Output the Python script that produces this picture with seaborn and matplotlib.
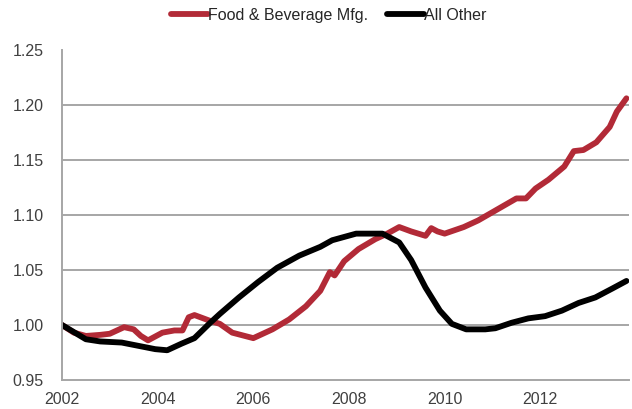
import pandas as pd
import matplotlib
matplotlib.use('Agg')
import matplotlib.pyplot as plt
import seaborn as sns

# Index values (decimal year, level relative to 2002)
food_year = [2002.0, 2002.25, 2002.5, 2002.8, 2003.0, 2003.3, 2003.5, 2003.65, 2003.8,
             2004.1, 2004.35, 2004.52, 2004.65, 2004.77, 2005.08, 2005.3, 2005.56, 2006.0,
             2006.4, 2006.75, 2007.1, 2007.4, 2007.6, 2007.7, 2007.9, 2008.2, 2008.55,
             2008.8, 2009.05, 2009.3, 2009.6, 2009.72, 2009.85, 2010.0, 2010.4, 2010.7,
             2011.06, 2011.5, 2011.7, 2011.9, 2012.17, 2012.5, 2012.7, 2012.9, 2013.17,
             2013.45, 2013.6, 2013.8]
food_val = [1.000, 0.993, 0.990, 0.991, 0.992, 0.998, 0.996, 0.990, 0.986,
            0.993, 0.995, 0.995, 1.007, 1.009, 1.004, 1.001, 0.993, 0.988,
            0.996, 1.005, 1.017, 1.031, 1.048, 1.045, 1.058, 1.069, 1.078,
            1.083, 1.089, 1.085, 1.081, 1.088, 1.085, 1.083, 1.089, 1.095,
            1.104, 1.115, 1.115, 1.124, 1.132, 1.144, 1.158, 1.159, 1.166,
            1.180, 1.194, 1.206]

other_year = [2002.0, 2002.27, 2002.5, 2002.8, 2003.25, 2003.6, 2003.95, 2004.2, 2004.5,
              2004.77, 2005.1, 2005.3, 2005.7, 2006.1, 2006.5, 2006.96, 2007.4, 2007.65,
              2008.15, 2008.7, 2009.05, 2009.3, 2009.6, 2009.9, 2010.15, 2010.45, 2010.85,
              2011.06, 2011.4, 2011.75, 2012.1, 2012.45, 2012.8, 2013.15, 2013.5, 2013.8]
other_val = [1.000, 0.993, 0.987, 0.985, 0.984, 0.981, 0.978, 0.977, 0.983,
             0.988, 1.002, 1.010, 1.025, 1.039, 1.052, 1.063, 1.071, 1.077,
             1.083, 1.083, 1.075, 1.059, 1.034, 1.013, 1.001, 0.996, 0.996,
             0.997, 1.002, 1.006, 1.008, 1.013, 1.020, 1.025, 1.033, 1.040]

series_names = ['Food & Beverage Mfg.', 'All Other']
series_colors = ['#B22A37', '#000000']
y_ticks = [0.95, 1.00, 1.05, 1.10, 1.15, 1.20, 1.25]
x_labels = [2002, 2004, 2006, 2008, 2010, 2012]

df = pd.concat([
    pd.DataFrame({'year': food_year, 'index': food_val, 'series': series_names[0]}),
    pd.DataFrame({'year': other_year, 'index': other_val, 'series': series_names[1]}),
])

sns.set_style('white')
plt.rcParams['font.family'] = ['Liberation Sans', 'DejaVu Sans']

fig = plt.figure(figsize=(6.32, 4.09), dpi=100)
ax = fig.add_axes([0.098, 0.071, 0.897, 0.807])

sns.lineplot(data=df, x='year', y='index', hue='series', hue_order=series_names,
             palette=series_colors, linewidth=4.2, estimator=None, ax=ax, legend=False)

ax.set_xlim(2002, 2013.85)
ax.set_ylim(0.95, 1.25)
ax.set_yticks(y_ticks)
ax.set_yticklabels([f'{v:.2f}' for v in y_ticks])
ax.set_xticks(list(range(2002, 2014)))
ax.set_xticklabels([str(y) if y in x_labels else '' for y in range(2002, 2014)])
for v in y_ticks[1:-1]:
    ax.axhline(v, color='#A6A6A6', linewidth=1.4, zorder=0)

ax.set_xlabel('')
ax.set_ylabel('')
for s in ['top', 'right']:
    ax.spines[s].set_visible(False)
for s in ['left', 'bottom']:
    ax.spines[s].set_color('#A6A6A6')
    ax.spines[s].set_linewidth(1.4)
ax.tick_params(axis='both', direction='out', length=4, width=1.4, color='#A6A6A6',
               labelsize=11.5, labelcolor='#404040')
ax.tick_params(axis='y', pad=9)
ax.tick_params(axis='x', pad=5)

handles = [plt.Line2D([], [], color=c, linewidth=4.2) for c in series_colors]
fig.legend(handles, series_names, loc='center', bbox_to_anchor=(0.52, 0.963), ncol=2,
           frameon=False, fontsize=11.5, handlelength=2.3, handletextpad=0.0,
           columnspacing=1.2, labelcolor='#262626')

fig.savefig('out.png', dpi=100)
